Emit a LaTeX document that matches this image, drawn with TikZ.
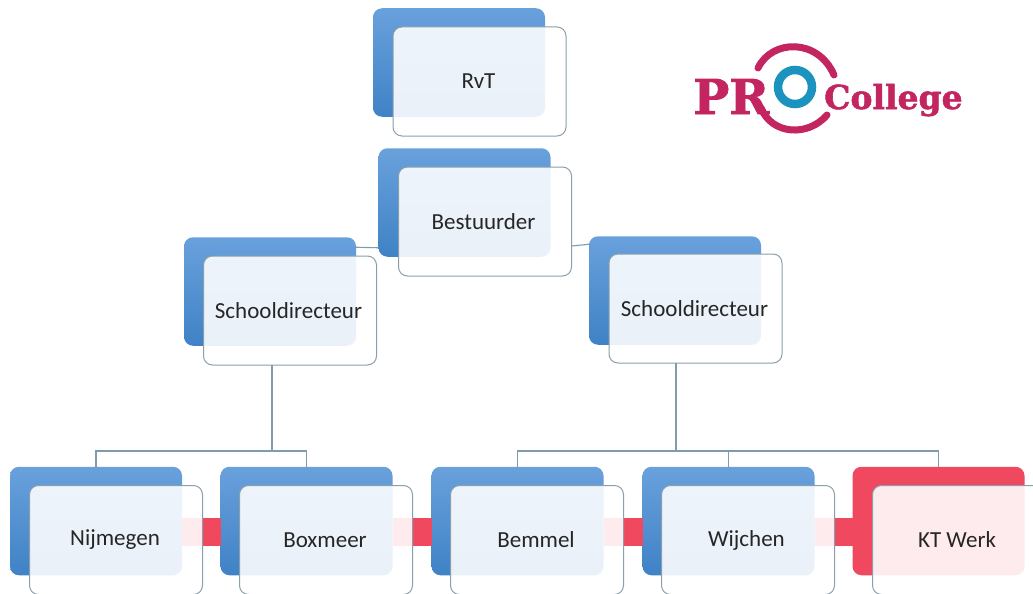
\documentclass[tikz,border=0pt]{standalone}
\usepackage{fontspec}
\setmainfont{Carlito}
\newfontfamily\logofont[BoldFeatures={FakeBold=1.6}]{DejaVu Serif}
\definecolor{edgec}{HTML}{8A9FAC}
\definecolor{linec}{HTML}{7F9CAD}
\definecolor{bluetop}{HTML}{69A1DC}
\definecolor{bluebot}{HTML}{3F82C6}
\definecolor{redc}{HTML}{F0495F}
\definecolor{logored}{HTML}{C2255F}
\definecolor{logoblue}{HTML}{1C93BF}
\tikzset{
  backbox/.style={minimum width=172pt,minimum height=108.5pt,rounded corners=9pt,inner sep=0pt,outer sep=0pt},
  bluebox/.style={backbox,top color=bluetop,bottom color=bluebot},
  redbox/.style={backbox,fill=redc},
  frontbox/.style={minimum width=173pt,minimum height=109pt,rounded corners=9pt,inner sep=0pt,outer sep=0pt,
    draw=edgec,line width=1pt,fill=white,fill opacity=.89,text opacity=1,text=black!85,font=\fontsize{23}{27}\selectfont},
  treeline/.style={draw=linec,line width=1.1pt},
  redlink/.style={draw=redc,line width=28pt},
  logotext/.style={text=logored,inner sep=0pt,anchor=base west,font=\logofont\bfseries},
}
\begin{document}
\begin{tikzpicture}[x=1pt,y=-1pt]
\useasboundingbox (0,0) rectangle (1033,594);
\clip (0,0) rectangle (1033,594);
\fill[white] (0,0) rectangle (1033,594);
% back boxes
\node[bluebox] (bR) at (459,62.5) {};
\node[bluebox] (bB) at (464.5,202.5) {};
\node[bluebox] (bSL) at (270,291.5) {};
\node[bluebox] (bSR) at (675,290.5) {};
\node[bluebox] (bN) at (96,521) {};
\node[bluebox] (bX) at (306.5,521) {};
\node[bluebox] (bM) at (517.5,521) {};
\node[bluebox] (bW) at (728.5,521) {};
\node[redbox] (bK) at (938.5,521) {};
% red links
\draw[redlink] ([yshift=-11pt]bN.east) -- ([yshift=-11pt]bX.west);
\draw[redlink] ([yshift=-11pt]bX.east) -- ([yshift=-11pt]bM.west);
\draw[redlink] ([yshift=-11pt]bM.east) -- ([yshift=-11pt]bW.west);
\draw[redlink] ([yshift=-11pt]bW.east) -- ([yshift=-11pt]bK.west);
% front boxes
\node[frontbox] (wR) at (479.5,81.5) {RvT\kern2pt};
\node[frontbox] (wB) at (485,221.5) {Bestuurder\kern3pt};
\node[frontbox] (wSL) at (290,310.5) {Schooldirecteur\kern3pt};
\node[frontbox] (wSR) at (695.5,308.5) {Schooldirecteur\kern2pt};
\node[frontbox] (wN) at (116,540) {Nijmegen\kern2pt};
\node[frontbox] (wX) at (326,540) {Boxmeer\kern2pt};
\node[frontbox] (wM) at (537,540) {Bemmel\kern2pt};
\node[frontbox] (wW) at (748,540) {Wijchen\kern3pt};
\node[frontbox] (wK) at (959,540) {KT Werk\kern4pt};
% tree
\coordinate (jL) at (272,451);
\coordinate (jR) at (676,451);
\draw[treeline] ([yshift=-10pt]bSL.north east) -- ([yshift=9pt]bB.south west);
\draw[treeline] ([yshift=30pt]wB.south east) -- ([yshift=-8pt]bSR.north west);
\draw[treeline] (jL |- wSL.south) -- (jL);
\draw[treeline] (bN.north) |- (jL);
\draw[treeline] (bX.north) |- (jL);
\draw[treeline] (jR |- wSR.south) -- (jR);
\draw[treeline] (bM.north) |- (jR);
\draw[treeline] (bW.north) |- (jR);
\draw[treeline] (bK.north) |- (jR);
% logo
\node[logotext,font=\logofont\bfseries\fontsize{48}{48}\selectfont] (lPR) at (693,114) {PR};
\node[logotext,font=\logofont\bfseries\fontsize{33}{33}\selectfont] (lC) at (824,109) {College};
\node[draw=logoblue,line width=8.5pt,circle,minimum size=34pt,inner sep=0pt] (lO) at (795,87) {};
\draw[logored,line width=7pt,line cap=round] (758,68) .. controls (772,39) and (818,38) .. (834,75);
\draw[logored,line width=7pt,line cap=round] (761,108) .. controls (772,135) and (808,137) .. (827,115);
\end{tikzpicture}
\end{document}
